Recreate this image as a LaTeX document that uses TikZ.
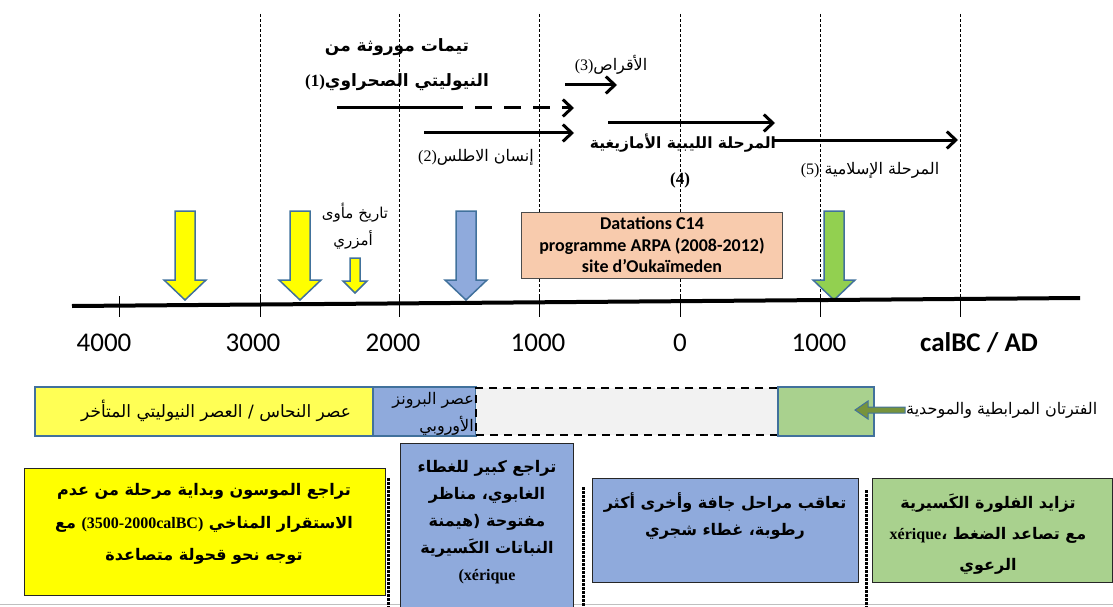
\documentclass[tikz,border=0pt]{standalone}
\usepackage{fontspec}
\setmainfont{Carlito}
\newfontfamily\arabicfont[Script=Arabic]{DejaVu Sans}
\newfontfamily\latinserif{Liberation Serif}
\TeXXeTstate=1
\usetikzlibrary{arrows.meta, positioning, calc}
\definecolor{arrowyellow}{HTML}{FFFF00}
\definecolor{periodyellow}{HTML}{FFFF55}
\definecolor{periodblue}{HTML}{8FAADC}
\definecolor{periodgreen}{HTML}{A9D18E}
\definecolor{arrowgreen}{HTML}{92D050}
\definecolor{pointergreen}{HTML}{77933C}
\definecolor{edgeblue}{HTML}{41719C}
\definecolor{datapeach}{HTML}{F8CBAD}
\definecolor{voidgray}{HTML}{F2F2F2}
\newcommand{\arline}[1]{\beginR #1\endR}
\newcommand{\ltrpart}[1]{\beginL #1\endL}
\newcommand{\refnum}[1]{\ltrpart{{\latinserif(#1)}}}

\begin{document}
\begin{tikzpicture}[x=1pt, y=-1pt,
    lbl/.style={font=\arabicfont\fontsize{16}{19}\selectfont, inner sep=0pt},
    lblbold/.style={font=\arabicfont\bfseries\fontsize{17}{20}\selectfont, inner sep=0pt},
    boxtext/.style={font=\arabicfont\bfseries\fontsize{16}{27}\selectfont, align=center, inner sep=0pt},
    timearrow/.style={line width=3pt, -{Straight Barb[length=9pt,width=17pt]}},
    blockedge/.style={draw=edgeblue, line width=1.5pt},
    climbox/.style={draw=black!85, line width=1.3pt, anchor=north west}]
  \useasboundingbox (0,0) rectangle (1113,607);

  % dashed grid of the time scale
  \foreach \tx in {260,399,539,680,820,960}
    \draw[line width=0.7pt, dash pattern=on 3pt off 2pt] (\tx,14) -- (\tx,300);

  % heritage arrows
  \coordinate (neo-a) at (337,108);
  \coordinate (neo-b) at (446,108);
  \coordinate (neo-c) at (574,108);
  \coordinate (atl-a) at (424,133);
  \coordinate (atl-b) at (574,133);
  \coordinate (disc-a) at (565,85);
  \coordinate (disc-b) at (617,85);
  \coordinate (lib-a) at (608,123);
  \coordinate (lib-b) at (775,123);
  \coordinate (isl-a) at (773,140);
  \coordinate (isl-b) at (958,140);
  \draw[line width=3pt] (neo-a) -- (neo-b);
  \draw[timearrow, dash pattern=on 17pt off 12pt] (neo-b) -- (neo-c);
  \draw[timearrow] (atl-a) -- (atl-b);
  \draw[timearrow] (disc-a) -- (disc-b);
  \draw[timearrow] (lib-a) -- (lib-b);
  \draw[timearrow] (isl-a) -- (isl-b);

  \node[lblbold] (neo1) at (397,47) {\arline{تيمات موروثة من}};
  \node[lblbold] (neo2) at (397,82) {\arline{النيوليتي الصحراوي{\bfseries\refnum{1}}}};
  \node[lbl] (disc) at (611,65) {\arline{الأقراص\refnum{3}}};
  \node[lbl] (atl) at (476,157) {\arline{إنسان الاطلس\refnum{2}}};
  \node[lblbold, font=\arabicfont\bfseries\fontsize{15.5}{19}\selectfont] (lib) at (683,143)
    {\arline{المرحلة الليبية الأمازيغية}};
  \node[inner sep=0pt, font=\latinserif\bfseries\fontsize{17}{20}\selectfont] (lib4) at (680,180) {(4)};
  \node[lbl] (isl) at (870,170) {\arline{المرحلة الإسلامية \refnum{5}}};
  \node[lbl, font=\arabicfont\fontsize{15}{18}\selectfont] (amz1) at (355,213) {\arline{تاريخ مأوى}};
  \node[lbl, font=\arabicfont\fontsize{15}{18}\selectfont] (amz2) at (353,240) {\arline{أمزري}};

  % dating arrows
  \foreach \cx/\col in {185/arrowyellow, 300/arrowyellow, 466/periodblue, 834/arrowgreen}
    \filldraw[fill=\col, blockedge] (\cx-10,211) -- (\cx+10,211) -- (\cx+10,280)
      -- (\cx+21,280) -- (\cx,300) -- (\cx-21,280) -- (\cx-10,280) -- cycle;
  \filldraw[fill=arrowyellow, blockedge] (350,258) -- (360,258) -- (360,281)
    -- (367,281) -- (355,293) -- (343,281) -- (350,281) -- cycle;

  \node[draw=black!70, line width=1pt, fill=datapeach, minimum width=261pt, minimum height=66pt,
    align=center, font=\bfseries\fontsize{18}{21.5}\selectfont] (c14) at (652,245)
    {Datations C14\\programme ARPA (2008-2012)\\site d’Oukaïmeden};

  % time axis
  \coordinate (axisL) at (72,306);
  \coordinate (axisR) at (1080,298);
  \draw[line width=4pt] (axisL) -- (axisR);
  \foreach \tx in {119,260,399,539,680,820,960}
    \draw[line width=1pt] (\tx,296) -- (\tx,317);
  \foreach \tx/\lab [count=\i] in {104/4000, 253/3000, 393/2000, 538/1000, 680/0, 819/1000}
    \node[font=\fontsize{27}{30}\selectfont, inner sep=0pt] (yr\i) at (\tx,343) {\lab};
  \node[font=\bfseries\fontsize{27}{30}\selectfont, inner sep=0pt] (unit) at (979,343) {calBC / AD};

  % cultural periods
  \node[fill=periodyellow, blockedge, anchor=north west, minimum width=338pt, minimum height=49pt] (chalco) at (34,386) {};
  \node[fill=periodblue, blockedge, anchor=north west, minimum width=103pt, minimum height=49pt] (bronze) at (372,386) {};
  \node[fill=voidgray, draw=black, line width=2pt, dash pattern=on 8pt off 6pt, anchor=north west,
    minimum width=302pt, minimum height=47pt] (gap) at (475,387) {};
  \node[fill=periodgreen, blockedge, anchor=north west, minimum width=96pt, minimum height=49pt] (almo) at (777,386) {};
  \node[lbl, font=\arabicfont\fontsize{17}{20}\selectfont] (chalcot) at (216,411)
    {\arline{عصر النحاس / العصر النيوليتي المتأخر}};
  \node[lbl, anchor=east] (bronze1) at (474,400) {\arline{عصر البرونز}};
  \node[lbl, anchor=east] (bronze2) at (474,426) {\arline{الأوروبي}};
  \filldraw[fill=pointergreen, draw=edgeblue, line width=1pt] (905,407) -- (868,407) -- (868,401)
    -- (855,410) -- (868,419) -- (868,413) -- (905,413) -- cycle;
  \node[lbl, anchor=west] (almolbl) at (906,410) {\arline{الفترتان المرابطية والموحدية}};

  % climate and vegetation
  \draw[black!25, line width=1pt] (0,604) -- (1113,604);
  \foreach \tx/\ty in {388/478, 583/487, 866/490}
    \draw[line width=3pt, dash pattern=on 2.5pt off 1.5pt] (\tx,\ty) -- (\tx,607);
  \node[climbox, fill=arrowyellow, minimum width=361pt, minimum height=127pt] (clim1) at (24,468) {};
  \node[climbox, fill=periodblue, minimum width=173pt, minimum height=170pt] (clim2) at (400,443) {};
  \node[climbox, fill=periodblue, minimum width=266pt, minimum height=104pt] (clim3) at (592,478) {};
  \node[climbox, fill=periodgreen, minimum width=240pt, minimum height=104pt] (clim4) at (872,478) {};
  \node[boxtext, font=\arabicfont\bfseries\fontsize{16}{32.5}\selectfont] (clim1t) at (204,524)
    {\arline{تراجع الموسون وبداية مرحلة من عدم}\\
     \arline{الاستقرار المناخي \ltrpart{{\latinserif\bfseries (3500-2000calBC)}} مع}\\
     \arline{توجه نحو قحولة متصاعدة}};
  \node[boxtext] (clim2t) at (487,522)
    {\arline{تراجع كبير للغطاء}\\ \arline{الغابوي، مناظر}\\ \arline{مفتوحة (هيمنة}\\
     \arline{النباتات الكَسيرية}\\ {\latinserif\bfseries (xérique}};
  \node[boxtext] (clim3t) at (725,516)
    {\arline{تعاقب مراحل جافة وأخرى أكثر}\\ \arline{رطوبة، غطاء شجري}};
  \node[boxtext, font=\arabicfont\bfseries\fontsize{16}{31}\selectfont] (clim4t) at (988,534)
    {\arline{تزايد الفلورة الكَسيرية}\\ {\latinserif\bfseries xérique}،\ \arline{مع تصاعد الضغط}\\ \arline{الرعوي}};
\end{tikzpicture}
\end{document}
